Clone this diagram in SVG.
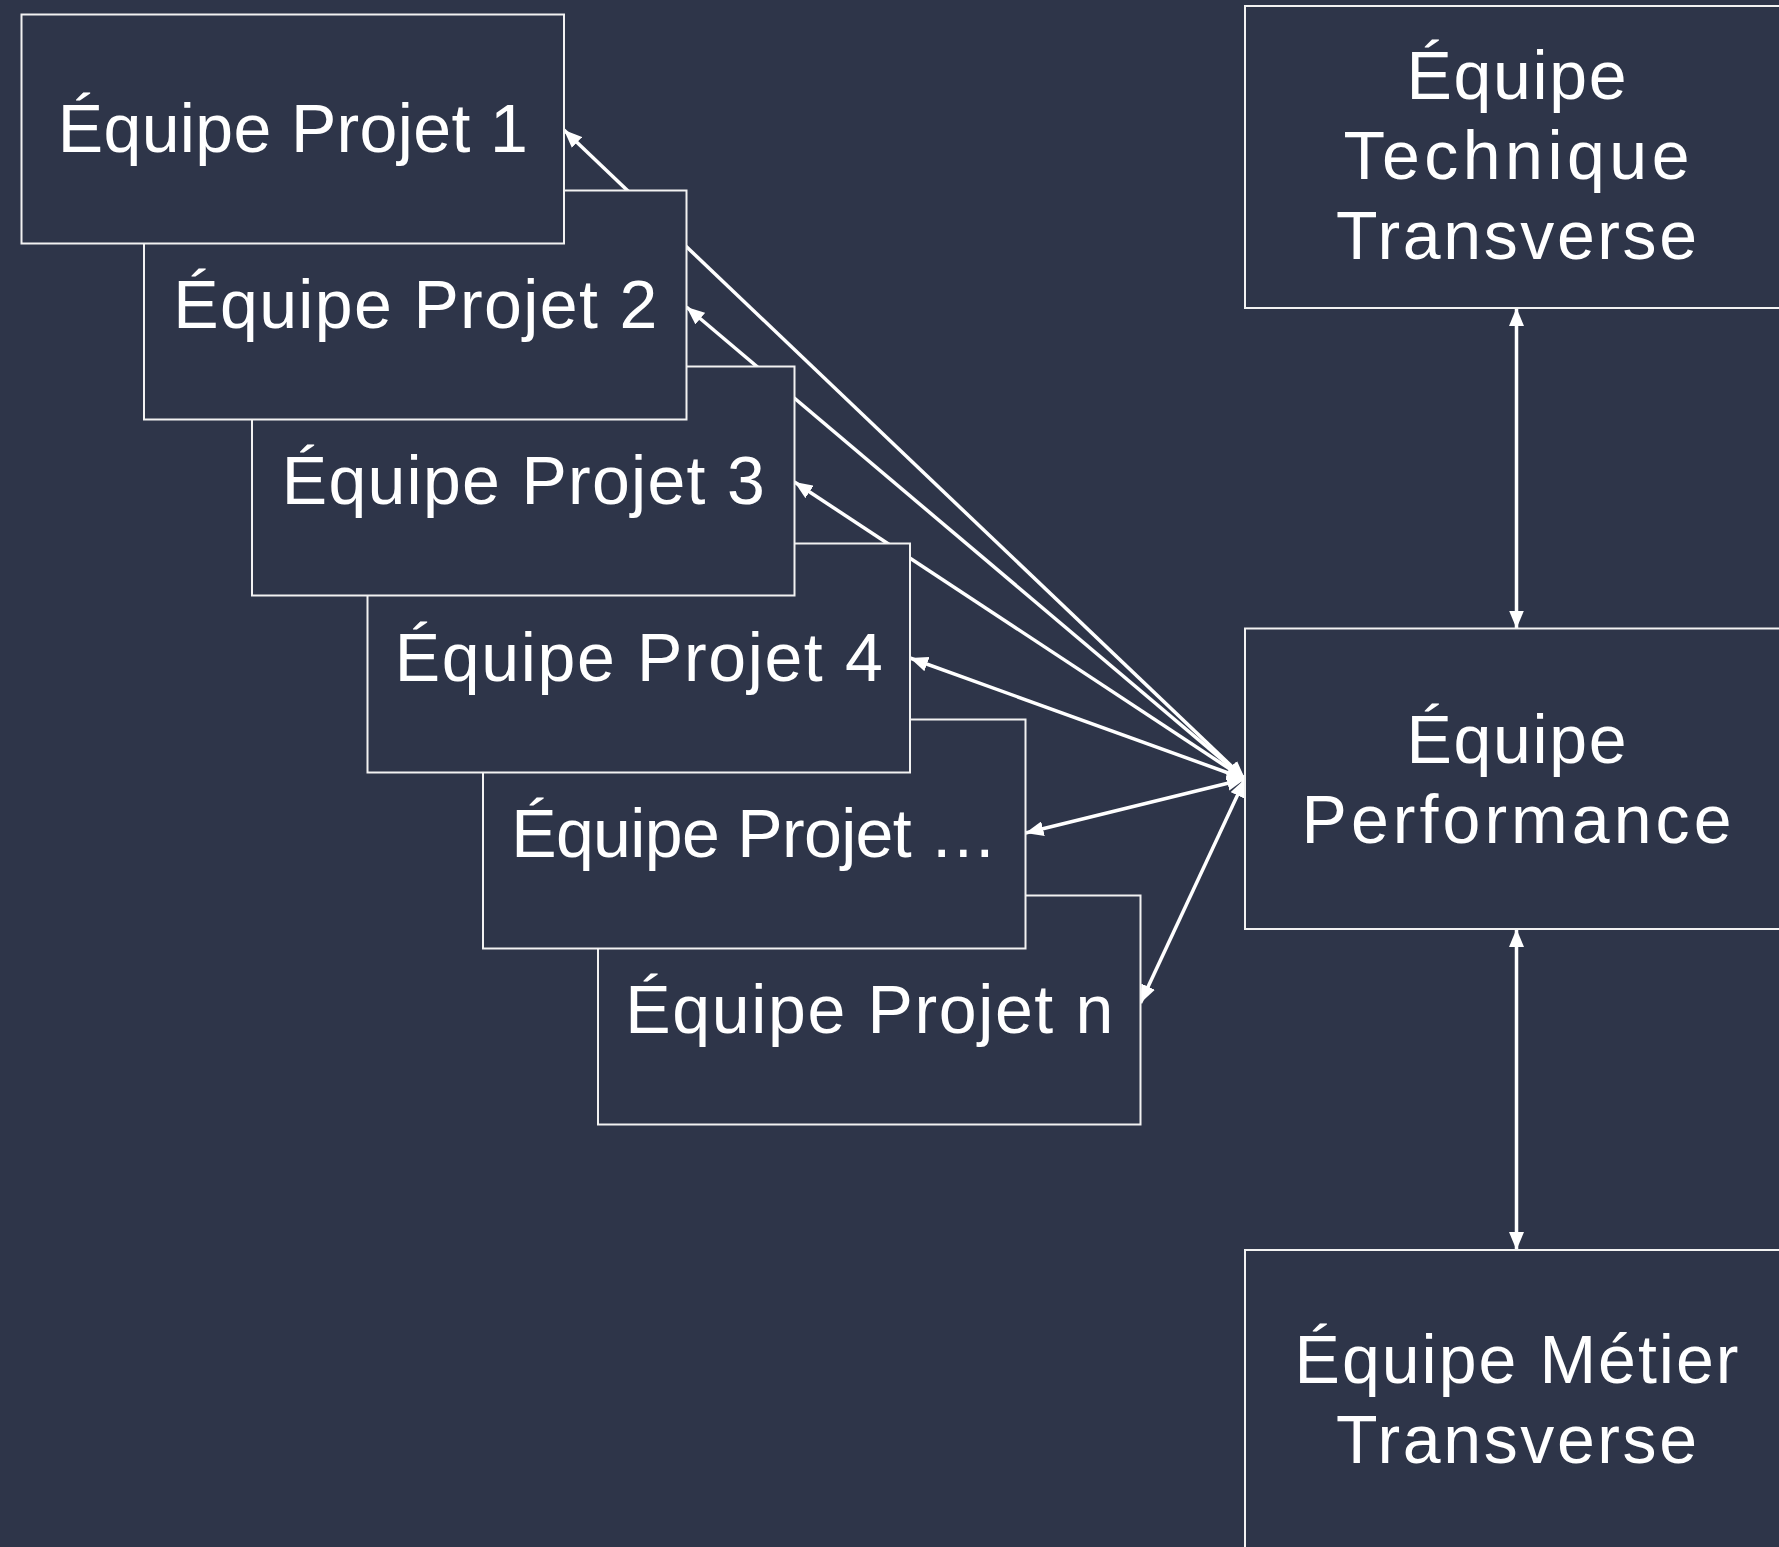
<svg xmlns="http://www.w3.org/2000/svg" width="1779" height="1547" viewBox="0 0 1779 1547">
<defs>
<style>
.box{fill:#2e3549;stroke:#f2f2f2;stroke-width:2}
.lbl{font-family:"Liberation Sans",Arial,sans-serif;font-size:68px;fill:#ffffff;text-anchor:middle}
.conn{stroke:#ffffff;stroke-width:3.5;fill:none;marker-end:url(#ah);marker-start:url(#ah)}
</style>
<marker id="ah" markerUnits="userSpaceOnUse" markerWidth="18" markerHeight="15" refX="18" refY="7.5" orient="auto-start-reverse" viewBox="0 0 18 15">
<path d="M0,0 L18,7.5 L0,15 z" fill="#ffffff"/>
</marker>
</defs>
<rect x="0" y="0" width="1779" height="1547" fill="#2e3549"/>
<g id="connectors">
<line class="conn" x1="1245" y1="779" x2="564" y2="130"/>
<line class="conn" x1="1245" y1="779" x2="686.5" y2="307"/>
<line class="conn" x1="1245" y1="779" x2="794.5" y2="482"/>
<line class="conn" x1="1245" y1="779" x2="910" y2="658"/>
<line class="conn" x1="1245" y1="779" x2="1025.5" y2="833"/>
<line class="conn" x1="1245" y1="779" x2="1140.5" y2="1003"/>
<line class="conn" x1="1516.5" y1="308" x2="1516.5" y2="628.5"/>
<line class="conn" x1="1516.5" y1="929" x2="1516.5" y2="1250"/>
</g>
<g id="projetn">
<rect class="box" x="598" y="895.5" width="542.5" height="229"/>
<text class="lbl" x="869.25" y="1032.5" textLength="488">Équipe Projet n</text>
</g>
<g id="projet5">
<rect class="box" x="483" y="719.5" width="542.5" height="229"/>
<text class="lbl" x="754.25" y="856.5" textLength="486">Équipe Projet …</text>
</g>
<g id="projet4">
<rect class="box" x="367.5" y="543.5" width="542.5" height="229"/>
<text class="lbl" x="638.75" y="680.5" textLength="488">Équipe Projet 4</text>
</g>
<g id="projet3">
<rect class="box" x="252" y="366.5" width="542.5" height="229"/>
<text class="lbl" x="523.25" y="503.5" textLength="483">Équipe Projet 3</text>
</g>
<g id="projet2">
<rect class="box" x="144" y="190.5" width="542.5" height="229"/>
<text class="lbl" x="415.25" y="327.5" textLength="484">Équipe Projet 2</text>
</g>
<g id="projet1">
<rect class="box" x="21.5" y="14.5" width="542.5" height="229"/>
<text class="lbl" x="292.75" y="151.5" textLength="470">Équipe Projet 1</text>
</g>
<g id="technique">
<rect class="box" x="1245" y="6" width="545" height="302"/>
<text class="lbl" x="1516.5" y="99" textLength="220">Équipe</text>
<text class="lbl" x="1516.5" y="179" textLength="346">Technique</text>
<text class="lbl" x="1516.5" y="259" textLength="361">Transverse</text>
</g>
<g id="performance">
<rect class="box" x="1245" y="628.5" width="545" height="300.5"/>
<text class="lbl" x="1516.5" y="762.5" textLength="220">Équipe</text>
<text class="lbl" x="1516.5" y="842.5" textLength="430">Performance</text>
</g>
<g id="metier">
<rect class="box" x="1245" y="1250" width="545" height="310"/>
<text class="lbl" x="1516.5" y="1382.5" textLength="444">Équipe Métier</text>
<text class="lbl" x="1516.5" y="1463" textLength="361">Transverse</text>
</g>
</svg>
